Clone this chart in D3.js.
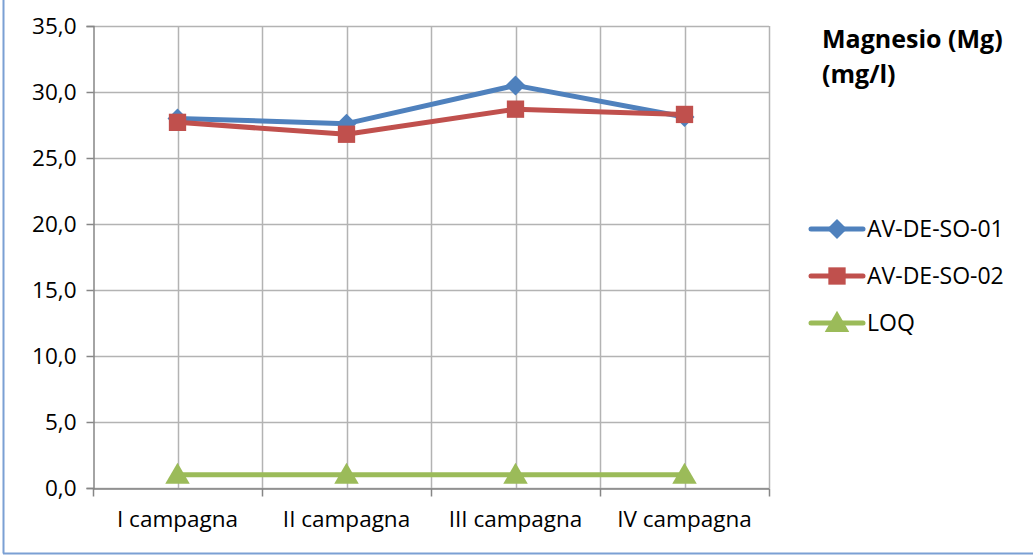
<!DOCTYPE html>
<html>
<head>
<meta charset="UTF-8">
<script src="https://d3js.org/d3.v7.min.js"></script>
<style>
  body { margin: 0; background: #fff; }
  text { font-family: "Open Sans", "Noto Sans", sans-serif; fill: #000; }
</style>
</head>
<body>
<svg id="chart" width="1033" height="556"></svg>
<script>
// données
var campagne = ["I campagna", "II campagna", "III campagna", "IV campagna"];
var serie01 = [28.0, 27.6, 30.5, 28.1];
var serie02 = [27.7, 26.8, 28.7, 28.3];
var loq = [1.0, 1.0, 1.0, 1.0];
var yTicks = [0, 5, 10, 15, 20, 25, 30, 35];
var nomsSeries = ["AV-DE-SO-01", "AV-DE-SO-02", "LOQ"];
var couleurs = ["#4F81BD", "#C0504D", "#9BBB59"];
// losange = carré tourné de 45°
var formes = [d3.symbolSquare, d3.symbolSquare, d3.symbolTriangle];
var rotations = [45, 0, 0];
var tailles = [200, 300, 260];

var series = [serie01, serie02, loq];

var svg = d3.select("#chart");

// cadre du graphique (seulement gauche et bas visibles)
svg.append("line").attr("x1", 3.5).attr("x2", 3.5).attr("y1", 0).attr("y2", 553.5)
  .attr("stroke", "#7BA0D4").attr("stroke-width", 2);
svg.append("line").attr("x1", 3).attr("x2", 1033).attr("y1", 553.5).attr("y2", 553.5)
  .attr("stroke", "#7BA0D4").attr("stroke-width", 2);

// zone de tracé
var pl = 93, pr = 769, pt = 26, pb = 488;

var x = d3.scaleBand().domain(campagne).range([pl, pr]).padding(0);
var y = d3.scaleLinear().domain([0, 35]).range([pb, pt]);

// grille horizontale
svg.append("g").selectAll("line").data(yTicks).enter().append("line")
  .attr("x1", pl).attr("x2", pr)
  .attr("y1", function(d){ return Math.round(y(d)) + 0.5; })
  .attr("y2", function(d){ return Math.round(y(d)) + 0.5; })
  .attr("stroke", "#B3B3B3").attr("stroke-width", 1.5);

// grille verticale : centres et limites des catégories
var vx = [];
campagne.forEach(function(c){ vx.push(x(c) + x.bandwidth() / 2); vx.push(x(c) + x.bandwidth()); });
svg.append("g").selectAll("line").data(vx).enter().append("line")
  .attr("x1", function(d){ return Math.round(d) + 0.5; })
  .attr("x2", function(d){ return Math.round(d) + 0.5; })
  .attr("y1", pt).attr("y2", pb)
  .attr("stroke", "#B3B3B3").attr("stroke-width", 1.5);

// axe Y
var yAxis = svg.append("g").attr("transform", "translate(" + (pl + 0.5) + ",0)")
  .call(d3.axisLeft(y).tickValues(yTicks).tickSize(7).tickPadding(10)
    .tickFormat(function(d){ return d3.format(".1f")(d).replace(".", ","); }));
yAxis.select(".domain").attr("stroke", "#868686").attr("stroke-width", 1.5);
yAxis.selectAll("line").attr("stroke", "#868686").attr("stroke-width", 1.5);
yAxis.selectAll("text").style("font-size", "22.5px").attr("fill", "#000");

// axe X
var xAxis = svg.append("g").attr("transform", "translate(0," + (pb + 0.5) + ")")
  .call(d3.axisBottom(x).tickSize(0).tickPadding(23));
xAxis.select(".domain").attr("stroke", "#868686").attr("stroke-width", 1.5);
xAxis.selectAll("text").style("font-size", "22.5px").attr("fill", "#000");
var xb = [pl].concat(campagne.map(function(c){ return x(c) + x.bandwidth(); }));
xAxis.selectAll(".sep").data(xb).enter().append("line")
  .attr("x1", function(d){ return Math.round(d) + 0.5; })
  .attr("x2", function(d){ return Math.round(d) + 0.5; })
  .attr("y1", 0).attr("y2", 8)
  .attr("stroke", "#868686").attr("stroke-width", 1.5);

var cx = function(i){ return x(campagne[i]) + x.bandwidth() / 2; };
var ligne = d3.line().x(function(d, i){ return cx(i); }).y(function(d){ return y(d); });

// dessin des séries (LOQ d'abord, puis 01, puis 02 au-dessus)
[2, 0, 1].forEach(function(k){
  svg.append("path").datum(series[k])
    .attr("d", ligne).attr("fill", "none")
    .attr("stroke", couleurs[k]).attr("stroke-width", 5).attr("stroke-linejoin", "round");
  svg.append("g").selectAll("path").data(series[k]).enter().append("path")
    .attr("d", d3.symbol().type(formes[k]).size(tailles[k]))
    .attr("transform", function(d, i){
      return "translate(" + cx(i) + "," + (y(d) + (k == 2 ? 2 : 0)) + ") rotate(" + rotations[k] + ")";
    })
    .attr("fill", couleurs[k]);
});

// titre
var titre = svg.append("text").attr("x", 822).attr("y", 48)
  .style("font-size", "25px").style("font-weight", "bold");
titre.append("tspan").attr("x", 822).attr("dy", 0).text("Magnesio (Mg)");
titre.append("tspan").attr("x", 822).attr("dy", 35).text("(mg/l)");

// légende
var leg = svg.append("g").selectAll("g").data(nomsSeries).enter().append("g")
  .attr("transform", function(d, i){ return "translate(0," + (229 + i * 47) + ")"; });
leg.append("line").attr("x1", 811).attr("x2", 863).attr("y1", 0).attr("y2", 0)
  .attr("stroke", function(d, i){ return couleurs[i]; }).attr("stroke-width", 5)
  .attr("stroke-linecap", "round");
leg.append("path")
  .attr("d", function(d, i){ return d3.symbol().type(formes[i]).size(tailles[i])(); })
  .attr("transform", function(d, i){ return "translate(837," + (i == 2 ? 2 : 0) + ") rotate(" + rotations[i] + ")"; })
  .attr("fill", function(d, i){ return couleurs[i]; });
leg.append("text").attr("x", 867).attr("y", 0).attr("dy", "0.35em")
  .style("font-size", "23px").text(function(d){ return d; });
</script>
</body>
</html>
